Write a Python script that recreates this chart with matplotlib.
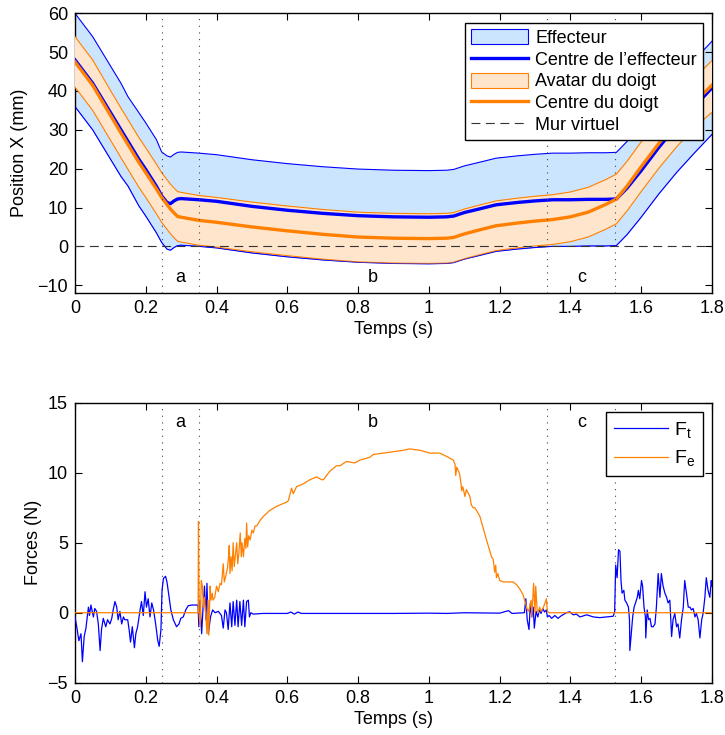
#Import modules
import numpy as np
import matplotlib
matplotlib.use("Agg")
import matplotlib.pyplot as plt
from matplotlib.patches import Patch
from matplotlib.lines import Line2D

plt.rcParams['font.family'] = ['Liberation Sans', 'DejaVu Sans']
plt.rcParams['mathtext.default'] = 'regular'
plt.rcParams['font.size'] = 13

#Position data (mm)
posTime = [0, 0.05, 0.1, 0.13, 0.15, 0.18, 0.2, 0.23, 0.245, 0.26, 0.27, 0.28, 0.29, 0.3, 0.35, 0.4, 0.5,
           0.6, 0.7, 0.8, 0.9, 1.0, 1.05, 1.07, 1.1, 1.15, 1.19, 1.25, 1.3, 1.35, 1.4, 1.45, 1.5, 1.53,
           1.56, 1.6, 1.65, 1.7, 1.75, 1.8]
effCentre = [48, 42, 34.5, 30, 27, 22.5, 19.8, 15.5, 13.0, 11.3, 11.0, 11.7, 12.2, 12.3, 12.0, 11.6, 10.3,
             9.3, 8.5, 7.9, 7.6, 7.5, 7.6, 7.8, 8.7, 9.8, 10.7, 11.3, 11.7, 12.0, 12.0, 12.1, 12.1, 12.2,
             15.0, 19.5, 25.5, 31.0, 36.0, 40.8]
effUpper = [60, 54, 46.5, 42, 38.5, 34.5, 31.8, 27.5, 24.3, 23.3, 23.0, 23.7, 24.2, 24.3, 24.0, 23.6, 22.3,
            21.3, 20.5, 19.9, 19.6, 19.5, 19.6, 19.8, 20.7, 21.8, 22.7, 23.3, 23.7, 24.0, 24.0, 24.1, 24.1, 24.2,
            27.0, 31.5, 37.5, 43.0, 48.0, 52.8]
effLower = [36, 30, 22.5, 18, 15.5, 10.5, 7.8, 3.5, 1.0, -0.7, -1.0, -0.3, 0.2, 0.3, 0.0, -0.4, -1.7,
            -2.7, -3.5, -4.1, -4.4, -4.5, -4.4, -4.2, -3.3, -2.2, -1.3, -0.7, -0.3, 0.0, 0.0, 0.1, 0.1, 0.2,
            3.0, 7.5, 13.5, 19.0, 24.0, 28.8]
fingCentre = [47.5, 41.5, 33.8, 29.2, 26.2, 21.7, 19.0, 14.8, 12.6, 10.8, 9.6, 8.6, 7.7, 7.5, 6.7, 6.2, 5.0,
              4.0, 3.1, 2.4, 2.1, 2.0, 2.1, 2.3, 3.2, 4.4, 5.3, 6.0, 6.5, 6.9, 7.6, 8.8, 10.8, 12.2,
              15.5, 20.5, 26.5, 32.0, 37.0, 41.5]
fingUpper = [54, 48, 40.2, 35.6, 32.6, 28.1, 25.4, 21.2, 19.0, 17.2, 16.0, 15.0, 14.1, 13.9, 13.1, 12.6, 11.4,
             10.4, 9.5, 8.8, 8.5, 8.4, 8.5, 8.7, 9.6, 10.8, 11.7, 12.4, 12.9, 13.3, 14.0, 15.2, 17.2, 18.6,
             21.9, 26.9, 32.9, 38.4, 43.4, 47.8]
fingLower = [41, 35, 27.4, 22.8, 19.8, 15.3, 12.6, 8.4, 6.2, 4.4, 3.2, 2.2, 1.3, 1.1, 0.3, -0.2, -1.4,
             -2.4, -3.3, -4.0, -4.3, -4.4, -4.3, -4.1, -3.2, -2.0, -1.1, -0.4, 0.1, 0.5, 1.2, 2.4, 4.4, 5.8,
             9.1, 14.1, 20.1, 25.6, 30.6, 34.5]

#Phase boundaries and labels
phaseLines = [0.245, 0.35, 1.335, 1.525]
phaseNames = ['a', 'b', 'c']
phaseLabelX = [0.297, 0.842, 1.432]

#Force data (N)
ftTime = [0.000, 0.005, 0.011, 0.017, 0.021, 0.026, 0.031, 0.038, 0.041, 0.045, 0.052, 0.056, 0.061, 0.066,
          0.071, 0.075, 0.080, 0.087, 0.092, 0.099, 0.104, 0.108, 0.113, 0.118, 0.122, 0.127, 0.132, 0.137,
          0.141, 0.149, 0.153, 0.157, 0.162, 0.168, 0.172, 0.177, 0.184, 0.188, 0.193, 0.198, 0.202, 0.207,
          0.212, 0.217, 0.222, 0.228, 0.234, 0.238, 0.243, 0.246, 0.250, 0.256, 0.260, 0.266, 0.271, 0.278,
          0.287, 0.294, 0.299, 0.306, 0.313, 0.320, 0.330, 0.339, 0.346, 0.348, 0.350, 0.353, 0.358, 0.362,
          0.366, 0.370, 0.373, 0.377, 0.383, 0.389, 0.396, 0.405, 0.414, 0.419, 0.424, 0.428, 0.433, 0.438,
          0.443, 0.447, 0.452, 0.457, 0.461, 0.466, 0.471, 0.476, 0.480, 0.485, 0.490, 0.493, 0.497, 0.504,
          0.53, 0.6, 0.61, 0.62, 0.63, 0.64, 0.7, 0.8, 0.9, 1.0, 1.05, 1.1, 1.2, 1.225, 1.235, 1.27,
          1.274, 1.278, 1.283, 1.287, 1.291, 1.295, 1.298, 1.303, 1.308, 1.312, 1.317, 1.322, 1.327, 1.332,
          1.335, 1.340, 1.347, 1.356, 1.365, 1.375, 1.389, 1.398, 1.408, 1.417, 1.427, 1.446, 1.465, 1.483,
          1.502, 1.521, 1.525, 1.528, 1.532, 1.536, 1.540, 1.543, 1.546, 1.551, 1.554, 1.559, 1.564, 1.567,
          1.568, 1.573, 1.576, 1.580, 1.584, 1.589, 1.592, 1.596, 1.601, 1.604, 1.608, 1.612, 1.613, 1.617,
          1.621, 1.625, 1.629, 1.634, 1.639, 1.643, 1.648, 1.653, 1.657, 1.662, 1.667, 1.672, 1.676, 1.681,
          1.686, 1.690, 1.695, 1.700, 1.704, 1.709, 1.714, 1.719, 1.723, 1.728, 1.733, 1.738, 1.742, 1.747,
          1.752, 1.756, 1.761, 1.766, 1.771, 1.775, 1.780, 1.784, 1.789, 1.794, 1.798, 1.800]
ftVal = [-0.3, -1.0, -2.0, -1.5, -3.5, -1.7, -1.1, 0.4, -0.2, 0.55, -0.3, 0.3, 0.1, -0.8,
         -2.7, -1.2, -0.4, -1.0, -0.5, -0.8, -0.4, 0.2, 0.8, 0.4, -0.5, 0.1, -0.8, -0.3,
         -0.5, -0.5, -1.2, -2.1, -1.0, -2.5, -1.5, -1.0, 0.2, 0.8, -0.2, 1.5, 0.4, 1.0,
         -0.3, 0.7, 0.2, -0.8, -2.0, -2.4, -1.2, 1.6, 2.45, 2.6, 2.2, 1.1, 0.2, -0.5,
         -1.0, -0.8, -0.4, -0.3, 0.2, 0.5, 0.55, 0.55, 0.55, 0.4, -1.0, 0.9, -1.5, 0.4,
         1.9, -0.5, 2.1, -1.5, -0.3, 0.2, 0.0, 0.1, -0.2, -1.1, 0.2, 0.0, -1.2, 0.7,
         -1.0, 0.8, -0.9, 0.9, -1.0, 0.8, -0.9, 0.9, -1.0, 0.8, 0.9, -0.3, 0.0, -0.1,
         -0.05, -0.05, 0.05, -0.1, 0.05, -0.05, -0.05, -0.05, -0.05, -0.03, -0.05, 0.0, -0.03, 0.15, -0.05, 0.0,
         1.0, -0.5, -1.2, 0.7, -0.3, 0.4, -1.1, 0.1, -0.3, 0.2, -0.05, 0.3, 0.05, 0.2,
         -0.3, -0.2, -0.4, -0.2, -0.4, -0.2, 0.0, 0.07, -0.15, -0.1, -0.3, -0.15, -0.3, -0.35,
         -0.3, -0.25, 0.05, 3.4, 2.5, 4.5, 4.4, 2.3, 1.4, 1.6, 0.9, 0.7, 0.4, -0.5,
         -2.7, -1.2, -0.3, 0.4, 0.7, 1.1, 1.6, 1.0, 2.3, 1.9, 0.4, -0.3, -1.8, 0.2,
         -0.5, -0.4, -1.0, -1.0, -0.8, 0.4, 2.8, 1.1, 2.8, 1.9, 1.4, 1.1, 0.7, 0.9,
         -1.7, -0.5, -0.05, -1.0, -0.8, -1.8, -0.5, 0.4, 2.3, 1.4, 0.4, 0.4, 0.2, 0.3,
         -0.3, -0.05, -0.5, -1.8, -0.5, -0.05, 1.1, 2.5, 1.6, 1.1, 2.3, 1.9]

feTime = [0, 0.348, 0.349, 0.351, 0.354, 0.357, 0.360, 0.363, 0.366, 0.370, 0.373, 0.376, 0.378, 0.382,
          0.384, 0.388, 0.390, 0.395, 0.400, 0.405, 0.410, 0.414, 0.419, 0.422, 0.426, 0.431, 0.434, 0.436,
          0.438, 0.441, 0.444, 0.447, 0.450, 0.453, 0.457, 0.460, 0.463, 0.467, 0.470, 0.472, 0.476, 0.480,
          0.483, 0.485, 0.488, 0.491, 0.495, 0.500, 0.504, 0.509, 0.514, 0.523, 0.533, 0.542, 0.550, 0.570,
          0.589, 0.598, 0.603, 0.608, 0.612, 0.617, 0.626, 0.645, 0.664, 0.683, 0.697, 0.702, 0.720, 0.739,
          0.749, 0.767, 0.791, 0.805, 0.833, 0.843, 0.871, 0.899, 0.927, 0.946, 0.975, 1.003, 1.031, 1.055,
          1.069, 1.074, 1.076, 1.079, 1.087, 1.091, 1.093, 1.096, 1.102, 1.106, 1.116, 1.120, 1.125, 1.130,
          1.144, 1.163, 1.177, 1.182, 1.186, 1.189, 1.191, 1.195, 1.200, 1.210, 1.229, 1.238, 1.248, 1.257,
          1.266, 1.273, 1.277, 1.281, 1.285, 1.289, 1.291, 1.296, 1.300, 1.302, 1.306, 1.309, 1.313, 1.317,
          1.322, 1.327, 1.332, 1.335, 1.340, 1.8]
feVal = [0, 0, 6.5, -0.2, -1.0, 2.3, 1.9, 0.4, 1.1, -0.3, -1.5, 0.9, -1.6, 1.9,
         0.9, 1.4, 0.9, 1.1, 1.9, 1.5, 2.1, 2.0, 3.5, 2.2, 2.6, 3.2, 4.0, 4.8,
         2.8, 4.0, 3.0, 5.0, 3.3, 4.0, 5.0, 3.5, 4.2, 5.7, 4.0, 5.0, 4.0, 5.3,
         4.6, 6.4, 4.7, 5.5, 5.2, 5.9, 5.7, 6.2, 6.2, 6.6, 6.9, 7.1, 7.3, 7.6,
         7.8, 7.9, 8.0, 8.5, 8.9, 8.5, 9.0, 9.2, 9.5, 9.7, 9.5, 9.5, 10.1, 10.5,
         10.5, 10.8, 10.7, 10.9, 11.1, 11.3, 11.4, 11.5, 11.6, 11.7, 11.6, 11.4, 11.4, 11.1,
         10.9, 10.6, 9.8, 10.4, 9.9, 9.2, 8.7, 9.0, 8.3, 8.8, 8.3, 7.7, 7.5, 7.5,
         6.9, 5.2, 4.0, 3.8, 2.9, 3.4, 2.5, 2.8, 2.3, 2.2, 2.2, 2.2, 2.0, 1.7,
         1.3, 0.7, 0.3, 0.1, 0.4, 0.9, -0.3, 2.1, 0.0, 1.9, 0.2, 0.0, 0.4, 0.1,
         0.3, 0.6, 1.0, 0.1, 0.0, 0.0]

blue = '#0000FF'
orange = '#FF8000'
blueFill = '#CCE5FF'
orangeFill = '#FFE5CC'
wallStyle = (0, (8, 5))
phaseStyle = (0, (1, 5))

fig = plt.figure(figsize=(7.25, 7.35), dpi=100)
ax1 = fig.add_axes([0.1034, 0.6014, 0.8786, 0.3805])
ax2 = fig.add_axes([0.1034, 0.0711, 0.8786, 0.3810])

#Top plot: positions
ax1.fill_between(posTime, effLower, effUpper, facecolor=blueFill, edgecolor='none', zorder=1)
ax1.plot(posTime, effUpper, color=blue, lw=0.8, zorder=2)
ax1.plot(posTime, effLower, color=blue, lw=0.8, zorder=2)
ax1.fill_between(posTime, fingLower, fingUpper, facecolor=orangeFill, edgecolor='none', zorder=3)
ax1.plot(posTime, fingUpper, color=orange, lw=0.8, zorder=4)
ax1.plot(posTime, fingLower, color=orange, lw=0.8, zorder=4)
ax1.plot(posTime, effLower, color=blue, lw=0.5, alpha=0.6, zorder=4)
ax1.plot(posTime, effCentre, color=blue, lw=2.4, zorder=5)
ax1.plot(posTime, fingCentre, color=orange, lw=2.4, zorder=6)
ax1.axhline(0, color='#333333', lw=0.8, linestyle=wallStyle, zorder=7)
for xv in phaseLines:
    ax1.axvline(xv, color='#444444', lw=0.8, linestyle=phaseStyle, zorder=8)
for name, xv in zip(phaseNames, phaseLabelX):
    ax1.text(xv, -8, name, ha='center', va='center')

ax1.set_xlim(0, 1.8)
ax1.set_ylim(-12, 60)
ax1.set_yticks([-10, 0, 10, 20, 30, 40, 50, 60])
ax1.set_ylabel('Position X (mm)', labelpad=7)
ax1.set_xlabel('Temps (s)', labelpad=3)

#Legend built from proxy artists
handles1 = [Patch(facecolor=blueFill, edgecolor=blue, lw=0.8),
            Line2D([], [], color=blue, lw=2.4),
            Patch(facecolor=orangeFill, edgecolor=orange, lw=0.8),
            Line2D([], [], color=orange, lw=2.4),
            Line2D([], [], color='#333333', lw=0.8, linestyle=wallStyle)]
labels1 = ['Effecteur', 'Centre de l\u2019effecteur', 'Avatar du doigt', 'Centre du doigt', 'Mur virtuel']
leg1 = ax1.legend(handles1, labels1, loc='upper right', bbox_to_anchor=(0.986, 0.966), borderaxespad=0,
                  fancybox=False, framealpha=1, edgecolor='black', handlelength=3.15, handleheight=0.9,
                  labelspacing=0.22, borderpad=0.35, handletextpad=0.4)
leg1.get_frame().set_linewidth(1.0)
leg1.set_zorder(20)

#Bottom plot: forces
ax2.plot(ftTime, ftVal, color=blue, lw=0.9, label='F$_t$', zorder=3)
ax2.plot(feTime, feVal, color=orange, lw=0.9, label='F$_e$', zorder=4)
for xv in phaseLines:
    ax2.axvline(xv, color='#444444', lw=0.8, linestyle=phaseStyle, zorder=2)
for name, xv in zip(phaseNames, phaseLabelX):
    ax2.text(xv, 13.6, name, ha='center', va='center')

ax2.set_xlim(0, 1.8)
ax2.set_ylim(-5, 15)
ax2.set_yticks([-5, 0, 5, 10, 15])
ax2.set_ylabel('Forces (N)', labelpad=4)
ax2.set_xlabel('Temps (s)', labelpad=3)
leg2 = ax2.legend(loc='upper right', bbox_to_anchor=(0.986, 0.967), borderaxespad=0, fancybox=False,
                  framealpha=1, edgecolor='black', handlelength=2.8, labelspacing=0.45, borderpad=0.4,
                  handletextpad=0.3, fontsize=14)
leg2.get_frame().set_linewidth(1.0)
leg2.set_zorder(20)

#Matlab style ticks
tickVals = [0, 0.2, 0.4, 0.6, 0.8, 1, 1.2, 1.4, 1.6, 1.8]
tickLabels = ['0', '0.2', '0.4', '0.6', '0.8', '1', '1.2', '1.4', '1.6', '1.8']
for ax in (ax1, ax2):
    ax.set_xticks(tickVals)
    ax.set_xticklabels(tickLabels)
    ax.tick_params(direction='in', top=True, right=True, length=5, width=0.8, pad=5)
    for sp in ax.spines.values():
        sp.set_linewidth(1.0)

fig.savefig('out.png', dpi=100)
